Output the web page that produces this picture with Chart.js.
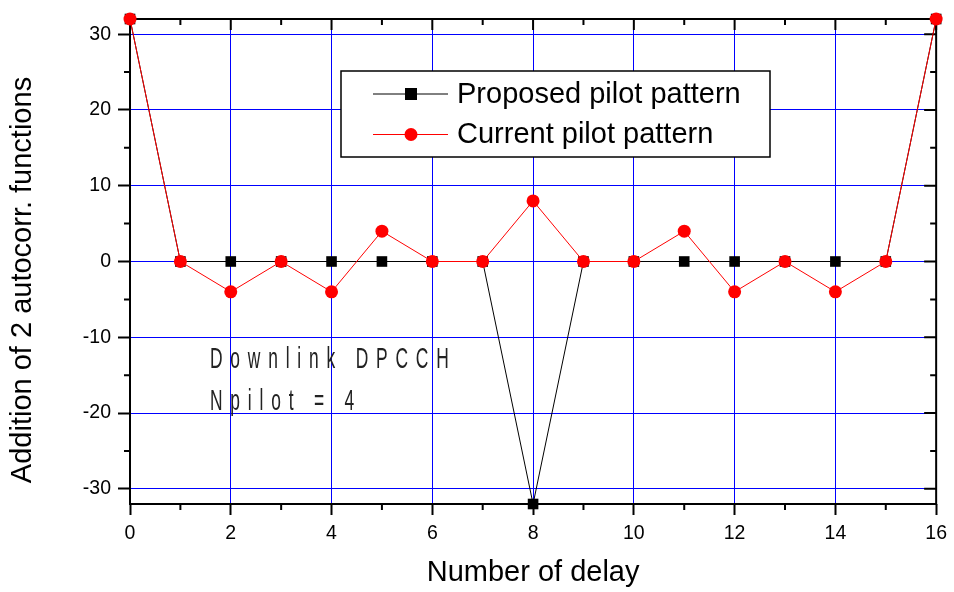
<!DOCTYPE html>
<html><head><meta charset="utf-8">
<script src="https://cdn.jsdelivr.net/npm/chart.js@4.4.0/dist/chart.umd.min.js"></script>
<style>html,body{margin:0;padding:0;background:#fff}#c{display:block}</style>
</head><body>
<canvas id="c" width="954" height="592"></canvas>
<script>
const delays = [0,1,2,3,4,5,6,7,8,9,10,11,12,13,14,15,16];
const proposed = [32,0,0,0,0,0,0,0,-32,0,0,0,0,0,0,0,32];
const current = [32,0,-4,0,-4,4,0,0,8,0,0,4,-4,0,-4,0,32];
const xTicks = [0,2,4,6,8,10,12,14,16];
const xMinor = [1,3,5,7,9,11,13,15];
const yTicks = [-30,-20,-10,0,10,20,30];
const yMinor = [-25,-15,-5,5,15,25];
const annotation = ['Downlink DPCCH','Npilot = 4'];
const yTitle = 'Addition of 2 autocorr. functions';
const FONT = '"Liberation Sans", Arial, sans-serif';

const framePlugin = {
  id:'frame',
  beforeDatasetsDraw(chart){
    const {ctx, chartArea:a, scales:{x,y}} = chart;
    ctx.save();
    ctx.strokeStyle='#000'; ctx.lineWidth=2;
    ctx.strokeRect(a.left,a.top,a.right-a.left,a.bottom-a.top);
    ctx.beginPath();
    xMinor.forEach(v=>{const p=x.getPixelForValue(v);ctx.moveTo(p,a.bottom);ctx.lineTo(p,a.bottom+6);
      ctx.moveTo(p,a.top);ctx.lineTo(p,a.top+6);});
    xTicks.forEach(v=>{const p=x.getPixelForValue(v);ctx.moveTo(p,a.top);ctx.lineTo(p,a.top+11);});
    yMinor.forEach(v=>{const p=y.getPixelForValue(v);ctx.moveTo(a.left,p);ctx.lineTo(a.left-6,p);
      ctx.moveTo(a.right,p);ctx.lineTo(a.right-6,p);});
    yTicks.forEach(v=>{const p=y.getPixelForValue(v);ctx.moveTo(a.right,p);ctx.lineTo(a.right-12,p);});
    ctx.stroke();
    ctx.fillStyle='#000'; ctx.font='29px '+FONT; ctx.textAlign='center'; ctx.textBaseline='middle';
    ctx.translate(23,280); ctx.rotate(-Math.PI/2); ctx.fillText(yTitle,0,0);
    ctx.restore();
  },
  afterDatasetsDraw(chart){
    const {ctx} = chart;
    ctx.save();
    const bx=341, by=71, bw=429, bh=86;
    ctx.fillStyle='#fff'; ctx.fillRect(bx,by,bw,bh);
    ctx.strokeStyle='#000'; ctx.lineWidth=1.5; ctx.strokeRect(bx,by,bw,bh);
    const rows=[{ds:chart.data.datasets[1],y:94},{ds:chart.data.datasets[0],y:134.5}];
    rows.forEach(r=>{
      ctx.strokeStyle=r.ds.borderColor; ctx.lineWidth=1;
      ctx.beginPath();ctx.moveTo(373,r.y);ctx.lineTo(448,r.y);ctx.stroke();
      ctx.fillStyle=r.ds.pointBackgroundColor;
      if(r.ds.pointStyle==='rect'){ctx.fillRect(411-6,r.y-6,12,12);}
      else{ctx.beginPath();ctx.arc(411,r.y,6.5,0,Math.PI*2);ctx.fill();}
      ctx.fillStyle='#000'; ctx.font='29px '+FONT;
      ctx.textBaseline='middle'; ctx.textAlign='left';
      ctx.fillText(r.ds.label,457,r.y+0.5);
    });
    ctx.font='29px '+FONT;
    ctx.textBaseline='alphabetic'; ctx.textAlign='left';
    ctx.fillStyle='#222';
    const sx=0.6, spacing=7.8;
    const lines=[{t:annotation[0],y:368},{t:annotation[1],y:410}];
    lines.forEach(l=>{
      let cx=210;
      for(const ch of l.t){
        ctx.save(); ctx.translate(cx,l.y); ctx.scale(sx,1);
        ctx.fillText(ch,0,0); ctx.restore();
        cx += ctx.measureText(ch).width*sx + spacing;
      }
    });
    ctx.restore();
  }
};

new Chart(document.getElementById('c'),{
  type:'line',
  data:{labels:delays,datasets:[
    {label:'Current pilot pattern',data:current.map((v,i)=>({x:delays[i],y:v})),borderColor:'#ff0000',
     backgroundColor:'#ff0000',pointBackgroundColor:'#ff0000',pointBorderColor:'#ff0000',pointStyle:'circle',
     pointRadius:6.5,pointBorderWidth:0,borderWidth:1,tension:0,clip:false},
    {label:'Proposed pilot pattern',data:proposed.map((v,i)=>({x:delays[i],y:v})),borderColor:'#000000',
     backgroundColor:'#000000',pointBackgroundColor:'#000000',pointBorderColor:'#000000',pointStyle:'rect',
     pointRadius:7.5,pointBorderWidth:0,borderWidth:1,tension:0,clip:false}
  ]},
  options:{
    responsive:false,animation:false,
    layout:{padding:{top:19,right:16,left:0,bottom:0}},
    plugins:{legend:{display:false},tooltip:{enabled:false}},
    scales:{
      x:{type:'linear',min:0,max:16,
        afterBuildTicks:s=>{s.ticks=xTicks.map(v=>({value:v}));},
        afterFit:s=>{s.height=88;},
        grid:{color:'#0000ff',lineWidth:1,tickColor:'#000',tickLength:11,tickWidth:2},
        border:{display:false},
        ticks:{color:'#000',font:{family:FONT,size:19.5},padding:7,maxRotation:0},
        title:{display:true,text:'Number of delay',color:'#000',font:{family:FONT,size:29},padding:{top:0,bottom:2}}
      },
      y:{type:'linear',min:-32,max:32,
        afterBuildTicks:s=>{s.ticks=yTicks.map(v=>({value:v}));},
        afterFit:s=>{s.width=130;},
        grid:{color:'#0000ff',lineWidth:1,tickColor:'#000',tickLength:12,tickWidth:2},
        border:{display:false},
        ticks:{color:'#000',font:{family:FONT,size:19.5},padding:7},
        title:{display:false}
      }
    }
  },
  plugins:[framePlugin]
});
</script>
</body></html>
